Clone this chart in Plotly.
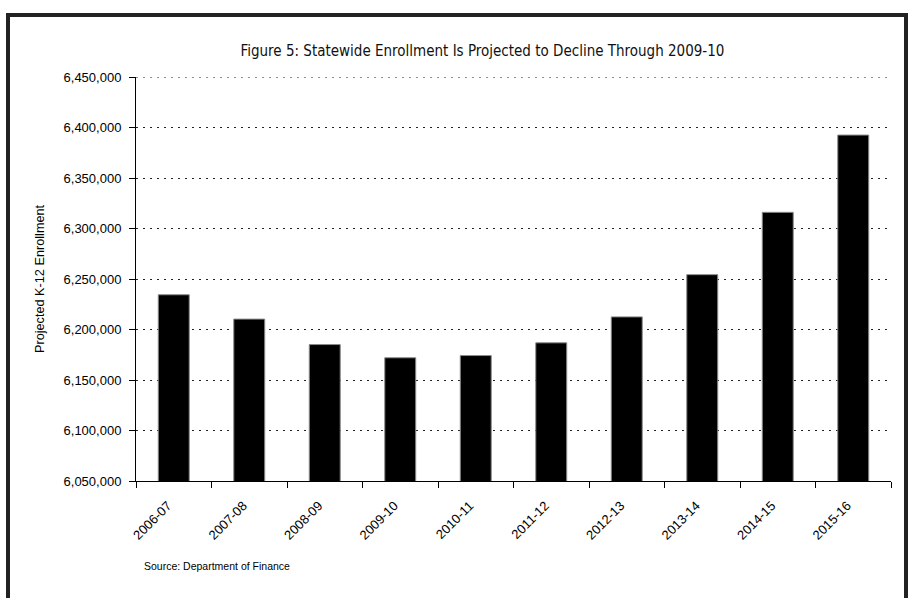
import plotly.graph_objects as go

# School years and projected statewide K-12 enrollment
years = ["2006-07", "2007-08", "2008-09", "2009-10", "2010-11",
         "2011-12", "2012-13", "2013-14", "2014-15", "2015-16"]
enrollment = [6234400, 6210300, 6185100, 6172000, 6174200,
              6186800, 6212500, 6254300, 6316000, 6392500]

y_min, y_max, y_step = 6050000, 6450000, 50000

title_text = "Figure 5: Statewide Enrollment Is Projected to Decline Through 2009-10"
y_title = "Projected K-12 Enrollment"
source_text = "Source: Department of Finance"

W, H = 908, 598
M_L, M_R, M_T, M_B = 136, 17, 77, 117
PLOT_W = W - M_L - M_R
PLOT_H = H - M_T - M_B

SANS = "Liberation Sans, Arial, sans-serif"
TITLE_FONT = "DejaVu Sans Condensed, Liberation Sans, Arial, sans-serif"
GRID_DASH = "2px,5px"
GRID_COLOR = "#222222"


def px_x(px):
    """Convert a page x pixel into paper coordinates."""
    return (px - M_L) / PLOT_W


def px_y(py):
    """Convert a page y pixel into paper coordinates."""
    return (H - M_B - py) / PLOT_H


fig = go.Figure(
    go.Bar(
        x=years,
        y=enrollment,
        marker=dict(color="#000000", line=dict(color="#8a8a8a", width=1)),
        hoverinfo="x+y",
    )
)

fig.update_layout(
    width=W,
    height=H,
    margin=dict(l=M_L, r=M_R, t=M_T, b=M_B),
    paper_bgcolor="white",
    plot_bgcolor="white",
    bargap=0.59,
    showlegend=False,
    font=dict(family=SANS, size=13, color="#000000"),
    title=dict(
        text=title_text,
        x=482.5 / W,
        xref="container",
        xanchor="center",
        y=1 - 51 / H,
        yref="container",
        yanchor="middle",
        font=dict(family=TITLE_FONT, size=15, color="#111111"),
    ),
    xaxis=dict(
        type="category",
        showline=True,
        linecolor="#000000",
        linewidth=1,
        ticks="outside",
        tickson="boundaries",
        ticklen=6,
        tickcolor="#000000",
        tickangle=-45,
        ticklabelstandoff=11,
        ticklabelshift=-6,
        showgrid=False,
        tickfont=dict(family=SANS, size=13, color="#000000"),
        fixedrange=True,
    ),
    yaxis=dict(
        range=[y_min, y_max],
        dtick=y_step,
        tick0=y_min,
        tickformat=",",
        showline=True,
        linecolor="#000000",
        linewidth=1,
        ticks="outside",
        ticklen=6,
        tickcolor="#000000",
        ticklabelstandoff=5,
        showgrid=True,
        gridcolor=GRID_COLOR,
        gridwidth=1,
        griddash=GRID_DASH,
        zeroline=False,
        tickfont=dict(family=SANS, size=13, color="#000000"),
        fixedrange=True,
    ),
)

# Dotted gridline along the top of the value range
fig.add_shape(
    type="line",
    xref="paper", yref="y",
    x0=0, x1=1, y0=y_max, y1=y_max,
    line=dict(color=GRID_COLOR, width=1, dash=GRID_DASH),
    layer="below",
)

# Vertical axis caption
fig.add_annotation(
    text=y_title,
    xref="paper", yref="paper",
    x=px_x(40), y=0.5,
    xanchor="center", yanchor="middle",
    textangle=-90,
    showarrow=False,
    font=dict(family=SANS, size=12.7, color="#000000"),
)

# Source note under the chart
fig.add_annotation(
    text=source_text,
    xref="paper", yref="paper",
    x=px_x(142), y=px_y(566),
    xanchor="left", yanchor="middle",
    showarrow=False,
    font=dict(family=SANS, size=10.5, color="#000000"),
)

# Dark frame around the figure
fig.add_shape(
    type="rect",
    xref="paper", yref="paper",
    x0=px_x(8), x1=px_x(906),
    y0=px_y(640), y1=px_y(15),
    line=dict(color="#222222", width=4),
    fillcolor="rgba(0,0,0,0)",
    layer="above",
)

fig.write_html("out.html")
